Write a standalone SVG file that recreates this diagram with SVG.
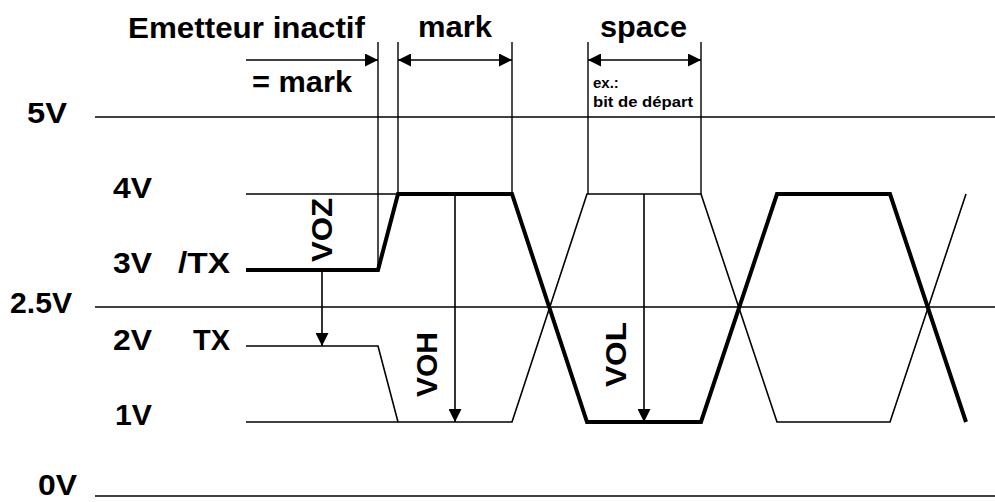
<svg xmlns="http://www.w3.org/2000/svg" width="995" height="502" viewBox="0 0 995 502">
<style>
text{font-family:"Liberation Sans",Arial,sans-serif;font-weight:bold;fill:#000}
.lbl{font-size:30px}
.sm{font-size:15px}
.thin{stroke:#000;stroke-width:1.6;fill:none}
.thick{stroke:#000;stroke-width:4;fill:none;stroke-linejoin:miter}
.dim{stroke:#000;stroke-width:1.4;fill:none}
.arr{stroke:#000;stroke-width:1.6;fill:none}
</style>
<defs>
<marker id="ah" viewBox="0 0 13 13" refX="13" refY="6.5" markerWidth="13" markerHeight="13" markerUnits="userSpaceOnUse" orient="auto-start-reverse">
<path d="M0,0 L13,6.5 L0,13 Z" fill="#000"/>
</marker>
</defs>
<rect width="995" height="502" fill="#fff"/>
<g id="levels">
<line class="thin" x1="95" y1="117" x2="995" y2="117"/>
<line class="thin" x1="95" y1="307" x2="995" y2="307"/>
<line class="thin" x1="95" y1="496" x2="995" y2="496"/>
<line class="thin" x1="246" y1="194" x2="398" y2="194"/>
<line class="thin" x1="246" y1="422" x2="398" y2="422"/>
</g>
<g id="level-labels">
<text class="lbl" x="27" y="123" textLength="40" lengthAdjust="spacingAndGlyphs">5V</text>
<text class="lbl" x="113" y="198" textLength="39" lengthAdjust="spacingAndGlyphs">4V</text>
<text class="lbl" x="113" y="273" textLength="39" lengthAdjust="spacingAndGlyphs">3V</text>
<text class="lbl" x="178" y="273" textLength="52" lengthAdjust="spacingAndGlyphs">/TX</text>
<text class="lbl" x="10" y="313" textLength="62" lengthAdjust="spacingAndGlyphs">2.5V</text>
<text class="lbl" x="113" y="350" textLength="39" lengthAdjust="spacingAndGlyphs">2V</text>
<text class="lbl" x="193" y="350" textLength="37" lengthAdjust="spacingAndGlyphs">TX</text>
<text class="lbl" x="115" y="425" textLength="37" lengthAdjust="spacingAndGlyphs">1V</text>
<text class="lbl" x="38" y="495" textLength="39" lengthAdjust="spacingAndGlyphs">0V</text>
</g>
<g id="signal-TX">
<polyline class="thin" points="246,346 378,346 398,422 512,422 587,194 701,194 777,422 890,422 966,194"/>
</g>
<g id="signal-nTX">
<polyline class="thick" points="246,270 378,270 398,194 512,194 587,422 701,422 777,194 890,194 966,422"/>
</g>
<g id="dimension-lines">
<line class="dim" x1="378" y1="42" x2="378" y2="270"/>
<line class="dim" x1="398" y1="42" x2="398" y2="194"/>
<line class="dim" x1="512" y1="42" x2="512" y2="194"/>
<line class="dim" x1="588" y1="42" x2="588" y2="194"/>
<line class="dim" x1="701" y1="42" x2="701" y2="194"/>
</g>
<g id="connectors">
<line class="arr" x1="246" y1="60" x2="378" y2="60" marker-end="url(#ah)"/>
<line class="arr" x1="398" y1="60" x2="512" y2="60" marker-start="url(#ah)" marker-end="url(#ah)"/>
<line class="arr" x1="588" y1="60" x2="701" y2="60" marker-start="url(#ah)" marker-end="url(#ah)"/>
<line class="arr" x1="322" y1="270" x2="322" y2="346" marker-end="url(#ah)"/>
<line class="arr" x1="455" y1="194" x2="455" y2="422" marker-end="url(#ah)"/>
<line class="arr" x1="644" y1="194" x2="644" y2="422" marker-end="url(#ah)"/>
</g>
<g id="label-emetteur">
<text class="lbl" x="128" y="38" textLength="237" lengthAdjust="spacingAndGlyphs">Emetteur inactif</text>
<text class="lbl" x="252" y="92" textLength="100" lengthAdjust="spacingAndGlyphs">= mark</text>
</g>
<g id="label-mark">
<text class="lbl" x="418" y="37" textLength="74" lengthAdjust="spacingAndGlyphs">mark</text>
</g>
<g id="label-space">
<text class="lbl" x="600" y="37" textLength="87" lengthAdjust="spacingAndGlyphs">space</text>
<text class="sm" x="593" y="88">ex.:</text>
<text class="sm" x="593" y="107" textLength="100" lengthAdjust="spacingAndGlyphs">bit de départ</text>
</g>
<g id="label-VOZ">
<text class="lbl" transform="translate(332,262) rotate(-90)" textLength="64" lengthAdjust="spacingAndGlyphs">VOZ</text>
</g>
<g id="label-VOH">
<text class="lbl" transform="translate(437,397) rotate(-90)" textLength="65" lengthAdjust="spacingAndGlyphs">VOH</text>
</g>
<g id="label-VOL">
<text class="lbl" transform="translate(626,387) rotate(-90)" textLength="65" lengthAdjust="spacingAndGlyphs">VOL</text>
</g>
</svg>
